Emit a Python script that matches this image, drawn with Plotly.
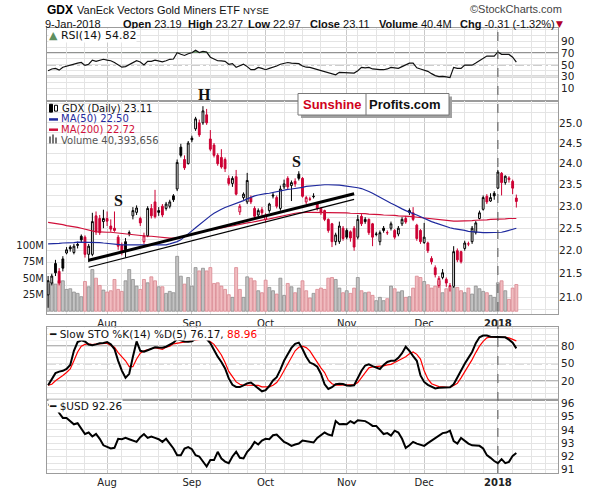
import math
import pandas as pd
import plotly.graph_objects as go

# trading days on the chart: Jul 10 2017 .. Jan 9 2018 (128 bars), then empty weeks on the right
holidays = ['2017-09-04', '2017-11-23', '2017-12-25', '2018-01-01', '2018-01-15']
days = [d for d in pd.bdate_range('2017-07-10', '2018-01-26') if d.strftime('%Y-%m-%d') not in holidays]
n = 128
x = list(range(n))

month_idx = [i for i in range(1, len(days)) if days[i].month != days[i - 1].month]
month_text = ['Aug', 'Sep', 'Oct', 'Nov', 'Dec', '<b>2018</b>']
week_idx = [i for i in range(1, len(days))
            if days[i].weekday() < days[i - 1].weekday() and min(abs(i - m) for m in month_idx) > 2]

# GDX daily candles
opens = [21.05, 21.30, 21.72, 21.55, 21.82, 21.95, 22.08, 21.96, 22.14, 22.32,
         22.30, 21.92, 21.92, 22.78, 22.72, 22.65, 22.72, 22.55, 22.50, 22.30,
         22.12, 22.20, 22.38, 22.78, 22.86, 22.72, 22.20, 22.33, 22.95, 23.10,
         22.90, 23.00, 22.95, 23.00, 23.24, 23.40, 24.40, 24.10, 24.00, 24.62,
         24.85, 25.00, 25.00, 25.20, 24.60, 24.45, 24.20, 24.15, 24.10, 23.65,
         23.53, 23.69, 22.87, 23.20, 23.10, 23.20, 22.95, 22.80, 22.92, 22.70,
         22.90, 23.26, 23.20, 22.95, 23.45, 23.65, 23.48, 23.58, 23.75, 23.65,
         23.10, 23.17, 23.22, 23.05, 22.95, 22.90, 22.70, 22.60, 22.20, 22.20,
         22.50, 22.45, 22.42, 22.50, 22.30, 22.77, 22.70, 22.70, 22.60, 22.36,
         22.20, 22.50, 22.40, 22.50, 22.45, 22.37, 22.60, 22.72, 22.90, 22.85,
         22.57, 22.45, 22.18, 22.17, 21.83, 21.63, 21.25, 21.42, 21.38, 21.24,
         21.23, 22.00, 21.98, 22.05, 22.15, 22.20, 22.40, 22.72, 22.93, 23.23,
         23.12, 23.30, 23.42, 23.77, 23.55, 23.66, 23.58, 23.19]
highs = [21.45, 21.50, 21.80, 21.62, 21.88, 22.08, 22.12, 22.15, 22.20, 22.36,
         22.34, 22.15, 22.85, 22.88, 22.80, 22.92, 22.88, 22.70, 22.88, 22.35,
         22.18, 22.28, 22.45, 22.98, 23.02, 22.76, 22.40, 23.00, 23.05, 23.38,
         22.98, 23.05, 23.10, 23.15, 23.28, 24.10, 24.48, 24.20, 24.55, 24.68,
         25.15, 25.08, 25.42, 25.35, 24.82, 24.50, 24.25, 24.35, 24.15, 23.72,
         23.70, 23.85, 23.05, 23.32, 23.78, 23.25, 23.00, 22.95, 22.98, 22.84,
         23.08, 23.32, 23.25, 23.48, 23.62, 23.70, 23.60, 23.65, 23.82, 23.68,
         23.24, 23.22, 23.30, 23.10, 22.98, 22.92, 22.72, 22.62, 22.40, 22.65,
         22.55, 22.50, 22.45, 22.55, 22.80, 22.82, 22.75, 22.72, 22.62, 22.42,
         22.45, 22.55, 22.45, 22.65, 22.48, 22.55, 22.75, 22.78, 22.95, 22.98,
         22.60, 22.48, 22.62, 22.20, 21.88, 21.68, 21.45, 21.60, 21.42, 21.30,
         22.10, 22.05, 22.00, 22.22, 22.20, 22.55, 22.66, 22.90, 23.25, 23.28,
         23.30, 23.35, 23.85, 23.80, 23.72, 23.70, 23.62, 23.27]
lows = [20.78, 21.25, 21.45, 21.25, 21.55, 21.92, 21.98, 21.92, 22.05, 22.18,
        21.85, 21.75, 21.88, 22.35, 22.35, 22.50, 22.55, 22.42, 22.42, 22.02,
        21.90, 21.85, 22.32, 22.70, 22.80, 22.55, 22.15, 22.30, 22.72, 22.72,
        22.78, 22.75, 22.90, 22.95, 23.10, 23.35, 24.15, 23.85, 23.98, 24.52,
        24.80, 24.65, 24.95, 24.95, 24.30, 24.15, 23.95, 23.88, 23.80, 23.48,
        23.45, 23.25, 22.80, 23.15, 23.05, 23.05, 22.72, 22.75, 22.78, 22.62,
        22.85, 23.18, 22.95, 22.90, 23.40, 23.40, 23.12, 23.45, 23.60, 23.20,
        23.05, 23.12, 23.18, 22.90, 22.80, 22.66, 22.40, 22.08, 22.12, 22.15,
        22.22, 22.25, 22.20, 22.00, 22.25, 22.55, 22.60, 22.35, 22.10, 22.32,
        22.12, 22.40, 22.35, 22.45, 22.25, 22.32, 22.55, 22.60, 22.80, 22.66,
        22.22, 22.15, 22.15, 21.95, 21.70, 21.42, 21.20, 21.38, 21.22, 21.12,
        21.20, 21.75, 21.72, 22.00, 22.10, 22.15, 22.36, 22.70, 22.90, 23.05,
        23.10, 23.15, 23.40, 23.25, 23.50, 23.55, 23.28, 22.97]
closes = [21.35, 21.45, 21.52, 21.30, 21.62, 22.02, 22.04, 22.10, 22.12, 22.24,
          21.92, 22.10, 22.65, 22.42, 22.40, 22.72, 22.66, 22.48, 22.45, 22.10,
          21.98, 22.02, 22.40, 22.90, 22.96, 22.62, 22.33, 22.95, 22.78, 22.76,
          22.86, 22.80, 23.05, 23.10, 23.15, 24.03, 24.20, 23.90, 24.50, 24.58,
          25.10, 24.70, 25.30, 25.00, 24.35, 24.20, 24.00, 23.92, 23.88, 23.53,
          23.65, 23.28, 23.00, 23.28, 23.60, 23.10, 22.77, 22.90, 22.85, 22.80,
          23.05, 23.24, 23.00, 23.40, 23.52, 23.45, 23.55, 23.52, 23.65, 23.23,
          23.20, 23.16, 23.23, 22.95, 22.85, 22.70, 22.45, 22.20, 22.35, 22.55,
          22.27, 22.30, 22.28, 22.08, 22.70, 22.60, 22.65, 22.40, 22.30, 22.37,
          22.40, 22.45, 22.40, 22.60, 22.30, 22.50, 22.70, 22.64, 22.86, 22.70,
          22.27, 22.20, 22.30, 22.00, 21.76, 21.48, 21.40, 21.52, 21.30, 21.24,
          21.98, 21.80, 21.76, 22.17, 22.15, 22.50, 22.62, 22.85, 23.20, 23.10,
          23.20, 23.24, 23.80, 23.55, 23.70, 23.62, 23.42, 23.11]
volume_m = [41, 43, 41, 46, 46, 33, 34, 29, 27, 22,
            45, 37, 63, 50, 39, 32, 29, 31, 48, 33,
            30, 46, 63, 48, 38, 33, 48, 43, 52, 46,
            37, 37, 27, 30, 28, 83, 53, 41, 51, 38,
            66, 61, 65, 61, 66, 42, 43, 38, 33, 25,
            21, 66, 33, 21, 52, 50, 46, 31, 28, 47,
            36, 31, 26, 50, 24, 42, 37, 28, 35, 46,
            31, 20, 27, 33, 35, 33, 50, 51, 48, 35,
            28, 31, 27, 35, 51, 31, 28, 29, 24, 16,
            21, 16, 19, 38, 34, 29, 31, 21, 22, 35,
            53, 51, 45, 40, 35, 38, 46, 28, 34, 38,
            36, 36, 31, 28, 35, 26, 38, 34, 30, 28,
            24, 21, 43, 46, 31, 18, 35, 40.39]
ma50 = [22.15, 22.15, 22.16, 22.16, 22.17, 22.17, 22.18, 22.18, 22.19, 22.19,
        22.19, 22.19, 22.19, 22.18, 22.18, 22.17, 22.16, 22.15, 22.14, 22.14,
        22.13, 22.13, 22.13, 22.13, 22.13, 22.13, 22.13, 22.13, 22.13, 22.13,
        22.13, 22.13, 22.13, 22.15, 22.17, 22.20, 22.24, 22.30, 22.36, 22.44,
        22.51, 22.58, 22.65, 22.72, 22.78, 22.84, 22.89, 22.93, 22.97, 23.00,
        23.04, 23.07, 23.10, 23.13, 23.17, 23.21, 23.24, 23.26, 23.28, 23.29,
        23.30, 23.32, 23.34, 23.36, 23.37, 23.39, 23.40, 23.41, 23.42, 23.44,
        23.46, 23.47, 23.48, 23.49, 23.50, 23.50, 23.50, 23.50, 23.50, 23.49,
        23.48, 23.47, 23.46, 23.45, 23.43, 23.41, 23.38, 23.34, 23.30, 23.25,
        23.20, 23.16, 23.12, 23.07, 23.03, 22.98, 22.94, 22.90, 22.86, 22.83,
        22.80, 22.76, 22.73, 22.69, 22.65, 22.62, 22.59, 22.56, 22.53, 22.51,
        22.49, 22.48, 22.46, 22.45, 22.43, 22.42, 22.41, 22.41, 22.40, 22.40,
        22.40, 22.40, 22.40, 22.41, 22.43, 22.45, 22.47, 22.50]
ma200 = [22.63, 22.62, 22.61, 22.60, 22.58, 22.56, 22.55, 22.53, 22.52, 22.50,
         22.48, 22.45, 22.43, 22.42, 22.42, 22.41, 22.41, 22.41, 22.40, 22.39,
         22.38, 22.37, 22.36, 22.35, 22.35, 22.34, 22.33, 22.32, 22.32, 22.31,
         22.30, 22.30, 22.29, 22.28, 22.28, 22.28, 22.29, 22.31, 22.33, 22.36,
         22.39, 22.41, 22.43, 22.45, 22.46, 22.48, 22.49, 22.51, 22.52, 22.54,
         22.55, 22.57, 22.58, 22.60, 22.62, 22.63, 22.65, 22.66, 22.68, 22.70,
         22.71, 22.73, 22.74, 22.76, 22.78, 22.80, 22.82, 22.84, 22.85, 22.86,
         22.86, 22.86, 22.86, 22.86, 22.86, 22.86, 22.85, 22.85, 22.85, 22.85,
         22.85, 22.85, 22.84, 22.84, 22.84, 22.83, 22.83, 22.82, 22.82, 22.81,
         22.81, 22.80, 22.80, 22.79, 22.79, 22.78, 22.78, 22.77, 22.77, 22.76,
         22.75, 22.74, 22.73, 22.72, 22.71, 22.70, 22.69, 22.68, 22.67, 22.66,
         22.66, 22.66, 22.66, 22.66, 22.67, 22.67, 22.68, 22.68, 22.69, 22.69,
         22.70, 22.70, 22.71, 22.71, 22.71, 22.72, 22.72, 22.72]

# RSI(14)
rsi = [40, 43, 44, 41, 46, 48, 50, 51, 53, 54,
       49, 51, 58, 56, 58, 59.5, 58, 57, 54, 50,
       46, 47, 50, 53, 57, 55, 50, 56, 56, 58,
       56, 55, 57, 59.5, 60, 70.6, 68, 66, 69, 70.6,
       75, 71, 73, 71.7, 63, 59.5, 57, 56.7, 56, 51,
       52, 45.7, 48, 51, 47, 41.7, 42, 45.7, 44, 41.7,
       44, 45.7, 48, 51, 53, 54, 53, 53, 52, 48,
       46, 45.7, 44, 41.7, 40, 38, 37.3, 35, 33, 37.3,
       37, 36, 36, 36, 40, 45.7, 45, 45.7, 43, 41.7,
       41.7, 41.7, 43, 45.7, 45, 44, 47, 50, 53, 53,
       45, 43, 41, 39, 35, 31.7, 30, 30.5, 29.5, 28.3,
       45.7, 44, 44, 49.5, 49.5, 49.5, 53, 56.7, 60, 65,
       65, 65, 72, 68, 67.8, 67.8, 63, 54.82]

# Slow stochastic %K(14) and %D(5)
sto_k = [13.3, 24, 34, 36.6, 38, 41, 48, 72, 87, 90,
         88, 82.8, 81.6, 83, 85, 85.5, 87, 83, 75, 55,
         38.3, 26, 32.8, 62, 88, 72, 70.5, 73, 75.5, 78,
         77.5, 77.2, 79, 82.8, 86, 92, 90, 88, 87.5, 88.3,
         92.5, 92.8, 92.8, 92.2, 85, 73, 62, 53, 42, 25,
         14, 10.5, 10.5, 13, 16.5, 18, 13.3, 9, 3, 5,
         12, 21.6, 27, 40, 55, 66, 77, 84, 86, 75,
         62, 52, 49.4, 45, 33, 15, 7, 10, 15, 16,
         15.5, 13, 12.5, 13.3, 25, 38, 47, 49, 46, 43,
         41.1, 48, 53, 55, 55, 60, 68, 79, 72, 63,
         55, 30, 19, 14, 11, 7.8, 9, 9.4, 9.4, 10,
         15, 27, 38, 50, 60, 70, 85, 95, 98, 98,
         96, 95.5, 95.5, 95.5, 95, 91, 86, 76.17]
sto_d = [13.3, 15, 21, 25, 30, 35, 41, 55, 70, 80,
         83, 84, 82.8, 83.5, 84.4, 85, 85, 81, 78, 69,
         62, 55, 45, 45, 58, 68, 72, 74.4, 75.5, 77.2,
         76, 74.4, 78, 80, 83.9, 85, 85.5, 87, 88.3, 90,
         91.1, 92, 92.2, 92.2, 88, 83, 74, 65, 52, 37,
         28, 19, 15, 13.3, 13.3, 13.3, 13.3, 13, 10.5, 10.5,
         10.5, 13.3, 18, 27, 38, 50, 62, 72, 78, 80,
         77.5, 72, 62, 52, 43, 35, 22, 16, 13.3, 13.3,
         13.3, 13.3, 13.3, 14.5, 18, 27, 36, 43, 44.5, 45,
         45.5, 46.5, 48, 49, 52, 55, 58, 62, 67, 70,
         66, 58, 38, 24, 16, 13, 11, 10.5, 10, 9.5,
         13, 16.5, 26, 36, 45, 57, 69, 80, 88, 94,
         95.5, 95.5, 95.5, 95.5, 95, 94, 92, 88.96]

# US dollar index
usd = [95.9, 95.8, 95.75, 95.27, 94.9, 94.9, 94.66, 94.42, 94.5, 94.05,
       93.69, 93.8, 93.5, 93.7, 93.33, 92.84, 92.7, 92.6, 92.65, 93.33,
       93.3, 93.4, 93.3, 93.2, 93.1, 93.45, 93.69, 93.4, 93.5, 93.4,
       93.3, 93.1, 93.33, 92.97, 92.6, 92.1, 92.1, 92.6, 92.7, 92.55,
       92.1, 92.0, 91.6, 91.25, 91.73, 91.73, 92.35, 91.85, 91.62, 91.5,
       92.0, 92.35, 91.9, 91.85, 92.35, 92.65, 93.1, 92.9, 93.2, 93.33,
       93.3, 93.6, 93.65, 93.4, 93.1, 92.97, 92.8, 92.9, 92.97, 93.2,
       93.15, 93.1, 93.05, 93.4, 93.57, 93.8, 93.65, 93.57, 94.66, 94.42,
       94.45, 94.42, 94.66, 94.5, 94.73, 94.7, 94.66, 94.5, 94.3, 94.3,
       94.0, 93.69, 93.76, 93.57, 93.94, 93.8, 93.33, 92.65, 92.84, 93.1,
       92.97, 92.9, 92.8, 93.0, 93.2, 93.4, 93.57, 93.76, 93.8, 93.94,
       93.15, 92.97, 93.4, 93.15, 92.97, 92.84, 92.82, 92.8, 92.6, 92.1,
       91.9, 91.66, 91.5, 91.8, 91.5, 91.6, 92.05, 92.26]

# hand-drawn trend lines (day index, price)
trend_thick_x = [11.0, 83.0]
trend_thick_y = [21.79, 23.29]
trend_thin_x = [11.0, 83.0]
trend_thin_y = [21.64, 23.16]

RED = '#cc0033'
GRID = '#c9c9c9'
GRID_LIGHT = '#e4e4e4'
BORDER = '#9c9c9c'

W, H = 600, 500
L, R, T, B = 47, 42, 28, 17


def px(v):
    return (v - L) / (W - L - R)


def py(v):
    return (H - B - v) / (H - T - B)


fig = go.Figure()

# RSI panel
rsi_top = [max(v, 70) for v in rsi]
fig.add_trace(go.Scatter(x=x, y=[70] * n, mode='lines', line=dict(width=0), xaxis='x', yaxis='y',
                         hoverinfo='skip', showlegend=False))
fig.add_trace(go.Scatter(x=x, y=rsi_top, mode='lines', line=dict(width=0), fill='tonexty',
                         fillcolor='#6f966f', xaxis='x', yaxis='y', hoverinfo='skip', showlegend=False))
fig.add_trace(go.Scatter(x=x, y=rsi, mode='lines', line=dict(color='#111111', width=1.2),
                         xaxis='x', yaxis='y', showlegend=False))

# volume behind the price
down = [i > 0 and closes[i] < closes[i - 1] for i in x]
fig.add_trace(go.Bar(x=x, y=[v * 1e6 for v in volume_m], width=0.8, xaxis='x2', yaxis='y2',
                     marker=dict(color=['#f0bcc0' if d else '#c3c3c3' for d in down],
                                 line=dict(color=['#d9868f' if d else '#8e8e8e' for d in down], width=0.8)),
                     showlegend=False))


def candles(idx, color):
    return go.Candlestick(x=idx, open=[opens[i] for i in idx], high=[highs[i] for i in idx],
                          low=[lows[i] for i in idx], close=[closes[i] for i in idx],
                          xaxis='x2', yaxis='y5', whiskerwidth=0, showlegend=False,
                          increasing=dict(line=dict(color=color, width=1), fillcolor='white'),
                          decreasing=dict(line=dict(color=color, width=1), fillcolor=color))


fig.add_trace(candles([i for i in x if not down[i]], '#000000'))
fig.add_trace(candles([i for i in x if down[i]], RED))

fig.add_trace(go.Scatter(x=x, y=ma200, mode='lines', line=dict(color='#d0103a', width=1.2),
                         xaxis='x2', yaxis='y5', showlegend=False))
fig.add_trace(go.Scatter(x=x, y=ma50, mode='lines', line=dict(color='#1f2a9e', width=1.2),
                         xaxis='x2', yaxis='y5', showlegend=False))
fig.add_trace(go.Scatter(x=trend_thick_x, y=trend_thick_y, mode='lines', line=dict(color='black', width=3),
                         xaxis='x2', yaxis='y5', showlegend=False))
fig.add_trace(go.Scatter(x=trend_thin_x, y=trend_thin_y, mode='lines', line=dict(color='black', width=1.2),
                         xaxis='x2', yaxis='y5', showlegend=False))

# stochastics
fig.add_trace(go.Scatter(x=x, y=sto_d, mode='lines', line=dict(color='#ff0000', width=1.2),
                         xaxis='x3', yaxis='y3', showlegend=False))
fig.add_trace(go.Scatter(x=x, y=sto_k, mode='lines', line=dict(color='#000000', width=2),
                         xaxis='x3', yaxis='y3', showlegend=False))

# dollar
fig.add_trace(go.Scatter(x=x, y=usd, mode='lines', line=dict(color='#000000', width=2),
                         xaxis='x4', yaxis='y4', showlegend=False))

tick_font = dict(family='DejaVu Sans', size=10, color='#222222')
right_font = dict(family='DejaVu Sans', size=10.5, color='#222222')


def xax(anchor, labels):
    return dict(anchor=anchor, range=[-0.3, 138.3], tickmode='array', tickvals=month_idx, ticktext=month_text,
                showticklabels=labels, ticks='', showgrid=True, gridcolor=GRID, gridwidth=1,
                minor=dict(tickmode='array', tickvals=week_idx, showgrid=True, gridcolor=GRID_LIGHT, ticks=''),
                showline=True, mirror=True, linecolor=BORDER, zeroline=False,
                rangeslider=dict(visible=False), tickfont=tick_font)


def yax(domain, anchor, rng, vals, labelled, **kw):
    d = dict(domain=domain, anchor=anchor, range=rng, side='right', tickmode='array', tickvals=vals,
             ticktext=[(('%g' % v) if v in labelled else '') for v in vals], ticks='',
             showgrid=True, gridcolor=GRID_LIGHT, showline=True, mirror=True, linecolor=BORDER,
             zeroline=False, tickfont=right_font)
    d.update(kw)
    return d


price_vals = [20.75 + 0.25 * k for k in range(20)]
price_text = [('%.1f' % v) if (v * 2) == int(v * 2) and v <= 25 else '' for v in price_vals]

fig.update_layout(
    width=W, height=H, margin=dict(l=L, r=R, t=T, b=B),
    paper_bgcolor='white', plot_bgcolor='white',
    font=dict(family='DejaVu Sans', size=11, color='#111111'),
    showlegend=False, hovermode=False,
    xaxis=xax('y', False), xaxis2=xax('y2', True), xaxis3=xax('y3', False), xaxis4=xax('y4', True),
    yaxis=yax([py(102.7), 1], 'x', [-11.7, 112.8], list(range(0, 111, 10)), [10, 30, 50, 70, 90]),
    yaxis2=dict(domain=[py(320), py(102.7)], anchor='x2', side='left', range=[-3.55e6, 317.9e6],
                tickmode='array', tickvals=[25e6, 50e6, 75e6, 100e6], ticktext=['25M', '50M', '75M', '100M'],
                ticks='', showgrid=False, showline=True, mirror=True, linecolor=BORDER, zeroline=False,
                tickfont=tick_font),
    yaxis5=dict(overlaying='y2', anchor='x2', side='right', type='log',
                range=[math.log10(20.66), math.log10(25.55)], tickmode='array', tickvals=price_vals,
                ticktext=price_text, ticks='', showgrid=True, gridcolor=GRID_LIGHT, zeroline=False,
                tickfont=right_font),
    yaxis3=yax([py(408.3), py(333.3)], 'x3', [-11.7, 113.3], list(range(-10, 111, 10)), [20, 50, 80]),
    yaxis4=yax([0, py(408.3)], 'x4', [90.76, 96.25], [91 + 0.5 * k for k in range(11)],
               [91, 92, 93, 94, 95, 96]),
)

shapes = []
for lvl, dash, yr in [(70, 'solid', 'y'), (30, 'solid', 'y'), (50, 'dashdot', 'y'),
                      (80, 'solid', 'y3'), (20, 'solid', 'y3'), (50, 'dashdot', 'y3')]:
    shapes.append(dict(type='line', xref='paper', yref=yr, x0=0, x1=1, y0=lvl, y1=lvl, layer='between',
                       line=dict(color='#6e6e6e', width=1.5 if dash == 'solid' else 1, dash=dash)))
# legend box of the price panel
shapes.append(dict(type='rect', xref='paper', yref='paper', x0=px(47), x1=px(161), y0=py(148), y1=py(103),
                   fillcolor='white', line=dict(width=0), layer='between'))
# Jan 2 marker
shapes.append(dict(type='line', xref='x', yref='paper', x0=month_idx[-1], x1=month_idx[-1], y0=0, y1=1,
                   line=dict(color='#555555', width=1, dash='dash')))
# Sunshine Profits logo
shapes.append(dict(type='rect', xref='paper', yref='paper', x0=px(301), x1=px(452), y0=py(120), y1=py(98),
                   fillcolor='#a0a0a0', line=dict(width=0)))
shapes.append(dict(type='rect', xref='paper', yref='paper', x0=px(298), x1=px(449), y0=py(117), y1=py(95),
                   fillcolor='white', line=dict(color='#777777', width=1)))
shapes.append(dict(type='line', xref='paper', yref='paper', x0=px(366), x1=px(366), y0=py(117), y1=py(95),
                   line=dict(color='#777777', width=1)))
# small legend icons of the price panel
shapes.append(dict(type='line', xref='paper', yref='paper', x0=px(49), x1=px(58), y0=py(121.5), y1=py(121.5),
                   line=dict(color='#1f2a9e', width=2.5)))
shapes.append(dict(type='line', xref='paper', yref='paper', x0=px(49), x1=px(58), y0=py(132), y1=py(132),
                   line=dict(color='#d0103a', width=2.5)))
for bx, top in [(49, 139), (52, 137), (55, 140)]:
    shapes.append(dict(type='rect', xref='paper', yref='paper', x0=px(bx), x1=px(bx + 2), y0=py(146), y1=py(top),
                       fillcolor='#777777', line=dict(width=0)))
for bx, top, bot, fill in [(49.5, 106, 114, '#000000'), (54.5, 107, 113, 'white')]:
    shapes.append(dict(type='rect', xref='paper', yref='paper', x0=px(bx), x1=px(bx + 3), y0=py(bot), y1=py(top),
                       fillcolor=fill, line=dict(color='#000000', width=1)))
fig.update_layout(shapes=shapes)


def note(text, xp, yp, size=11, color='#111111', family='DejaVu Sans', anchor='left', bg=None):
    d = dict(xref='paper', yref='paper', x=px(xp), y=py(yp), text=text, showarrow=False,
             xanchor=anchor, yanchor='middle', font=dict(family=family, size=size, color=color), borderpad=0)
    if bg:
        d['bgcolor'] = bg
    return d


ann = [
    note('<b>GDX</b>', 46, 10, size=12, family='Liberation Sans', color='#000000'),
    note('VanEck Vectors Gold Miners ETF', 76, 10, size=11, family='Liberation Sans'),
    note('NYSE', 242, 10.5, size=9.5, family='Liberation Sans'),
    note('©StockCharts.com', 563, 9, size=11, family='Liberation Sans', color='#444444', anchor='right'),
    note('9-Jan-2018', 44, 23.5, family='Liberation Sans'),
    note('<b>Open</b> 23.19', 122, 23.5, family='Liberation Sans'),
    note('<b>High</b> 23.27', 187, 23.5, family='Liberation Sans'),
    note('<b>Low</b> 22.97', 247, 23.5, family='Liberation Sans'),
    note('<b>Close</b> 23.11', 309, 23.5, family='Liberation Sans'),
    note('<b>Volume</b> 40.4M', 378, 23.5, family='Liberation Sans'),
    note('<b>Chg</b> -0.31 (-1.32%)', 459, 23.5, family='Liberation Sans'),
    note('▼', 555, 23.5, size=9, color='#b0002a', family='DejaVu Sans'),
    note('<span style="color:#5f8f5f">▲</span> RSI(14) 54.82', 48, 35.5, bg='white'),
    note('GDX (Daily) 23.11', 61, 109.8, size=10),
    note('MA(50) 22.50', 60, 121, size=10, color='#1f2a9e'),
    note('MA(200) 22.72', 60, 132, size=10, color='#d0103a'),
    note('Volume 40,393,656', 60, 143, size=10, color='#555555'),
    note('━ Slow STO %K(14) %D(5) 76.17, <span style="color:#ff0000">88.96</span>', 48, 341, size=10.5,
         bg='white'),
    note('━ $USD 92.26', 48, 415, size=10.5, bg='white'),
    note('<b>Sunshine</b>', 332, 106, size=13, family='Liberation Sans', color='#d0021b', anchor='center'),
    note('<b>Profits.com</b>', 405, 106, size=13, family='Liberation Sans', color='#111111', anchor='center'),
    note('<b>S</b>', 118, 204, size=16, family='Liberation Serif', color='#111111', anchor='center'),
    note('<b>H</b>', 204, 96, size=16, family='Liberation Serif', color='#111111', anchor='center'),
    note('<b>S</b>', 296, 164, size=16, family='Liberation Serif', color='#111111', anchor='center'),
]
fig.update_layout(annotations=ann)

fig.write_html("out.html", config={'displayModeBar': False},
               post_script="document.body.style.margin='0';")
